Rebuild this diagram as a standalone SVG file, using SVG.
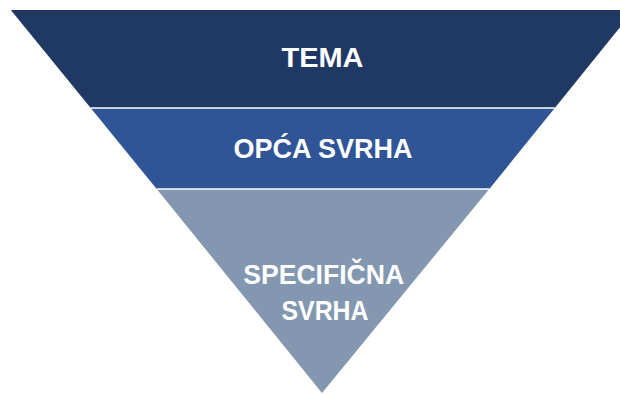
<svg xmlns="http://www.w3.org/2000/svg" width="620" height="394" viewBox="0 0 620 394">
<style>
.lbl{font-family:"Liberation Sans",Arial,sans-serif;font-weight:bold;font-size:28px;fill:#ffffff;text-anchor:middle}
.sep{stroke:#ffffff;stroke-width:1.5}
</style>
<rect width="620" height="394" fill="#ffffff"/>
<g id="tema">
<polygon points="10.8,10 634,10 554.8,108 90.7,108" fill="#203864"/>
<text class="lbl" x="322.5" y="67" textLength="82" lengthAdjust="spacingAndGlyphs">TEMA</text>
</g>
<g id="opca-svrha">
<polygon points="90.7,108 554.8,108 489.3,189 156.7,189" fill="#2F5597"/>
<text class="lbl" x="323" y="158" textLength="179" lengthAdjust="spacingAndGlyphs">OPĆA SVRHA</text>
</g>
<g id="specificna-svrha">
<polygon points="156.7,189 489.3,189 322,393" fill="#8497B0"/>
<text class="lbl" x="323.7" y="283.5" textLength="161" lengthAdjust="spacingAndGlyphs">SPECIFIČNA</text>
<text class="lbl" x="325" y="320" textLength="87" lengthAdjust="spacingAndGlyphs">SVRHA</text>
</g>
<g id="connectors">
<line class="sep" x1="90.7" y1="108" x2="554.8" y2="108"/>
<line class="sep" x1="156.7" y1="189" x2="489.3" y2="189"/>
</g>
</svg>
